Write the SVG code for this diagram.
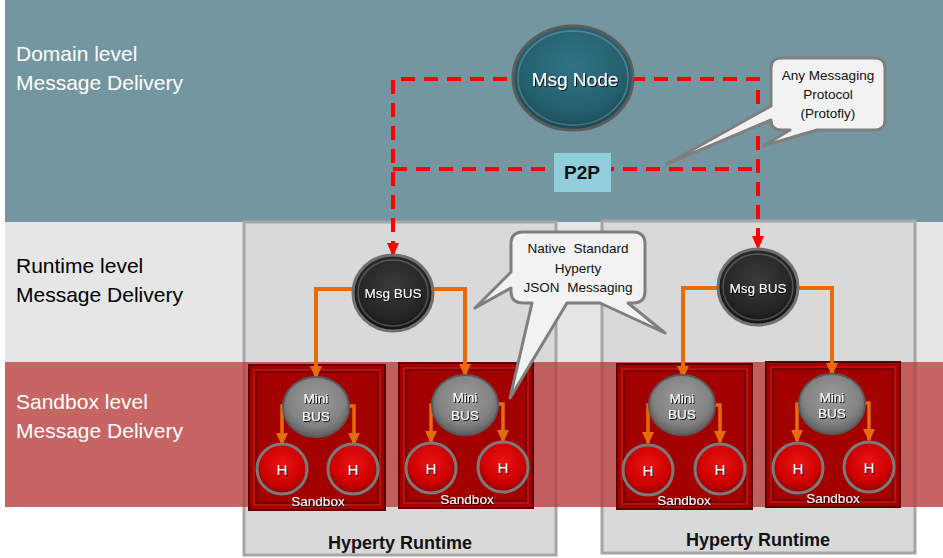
<svg xmlns="http://www.w3.org/2000/svg" width="943" height="558" viewBox="0 0 943 558">
<style>
text{font-family:"Liberation Sans",Arial,sans-serif}
.lvl{font-size:21px}
.w{fill:#fff}
.k{fill:#000}
.sh{filter:url(#ts)}
.box{fill:#D9D9D9;stroke:#A6A6A6;stroke-width:3}
.sb{fill:#A30000;stroke:#5E0000;stroke-width:2}
.sbi{fill:none;stroke:#6E0000;stroke-width:1.5}
.sbh{fill:none;stroke:#C42626;stroke-width:1}
.red{fill:none;stroke:#FF0000;stroke-width:4;stroke-dasharray:14 9}
.org{fill:none;stroke:#E46C0A;stroke-width:4;marker-end:url(#ao)}
.orgs{fill:none;stroke:#E46C0A;stroke-width:3.5;marker-end:url(#ao)}
.bus{fill:url(#gBus);stroke:#707070;stroke-width:3}
.mini{fill:url(#gMini);stroke:#5A5A5A;stroke-width:2}
.h{fill:url(#gH);stroke:#7A7A7A;stroke-width:3}
.hl{fill:none;stroke:#fff;stroke-opacity:.22;stroke-width:1.5}
.call{fill:#F2F2F2;stroke:#7F7F7F;stroke-width:3;stroke-linejoin:round}
.ct{font-size:13.5px;fill:#111;text-anchor:middle}
.bt{font-size:13.5px;text-anchor:middle}
.ht{font-size:15px;text-anchor:middle}
.hr{font-size:18px;font-weight:bold;text-anchor:middle;fill:#111}
</style>
<defs>
<radialGradient id="gNode" cx="50%" cy="38%" r="62%">
<stop offset="0" stop-color="#2F7585"/><stop offset="0.7" stop-color="#25606E"/><stop offset="1" stop-color="#1B4956"/>
</radialGradient>
<radialGradient id="gBus" cx="50%" cy="40%" r="60%">
<stop offset="0" stop-color="#3A3A3A"/><stop offset="0.7" stop-color="#262626"/><stop offset="1" stop-color="#121212"/>
</radialGradient>
<radialGradient id="gMini" cx="50%" cy="40%" r="60%">
<stop offset="0" stop-color="#9C9C9C"/><stop offset="0.7" stop-color="#828282"/><stop offset="1" stop-color="#5F5F5F"/>
</radialGradient>
<radialGradient id="gH" cx="50%" cy="40%" r="60%">
<stop offset="0" stop-color="#EC1414"/><stop offset="0.7" stop-color="#CC0000"/><stop offset="1" stop-color="#8E0000"/>
</radialGradient>
<filter id="ts" x="-20%" y="-30%" width="140%" height="160%">
<feDropShadow dx="1" dy="1" stdDeviation="0.4" flood-color="#000" flood-opacity="0.9"/>
</filter>
<marker id="ar" markerUnits="userSpaceOnUse" markerWidth="14" markerHeight="14" viewBox="0 0 14 14" refX="12" refY="7" orient="auto-start-reverse">
<path d="M0,1 L14,7 L0,13 z" fill="#FF0000"/>
</marker>
<marker id="ao" markerUnits="userSpaceOnUse" markerWidth="13" markerHeight="13" viewBox="0 0 13 13" refX="11" refY="6.5" orient="auto">
<path d="M0,0.5 L13,6.5 L0,12.5 z" fill="#E46C0A"/>
</marker>
</defs>

<g id="bands">
<rect x="0" y="0" width="943" height="558" fill="#fff"/>
<rect x="5" y="0" width="938" height="222" fill="#7396A0"/>
<rect x="5" y="222" width="938" height="140" fill="#E6E6E6"/>
<text class="lvl w" x="16" y="61">Domain level</text>
<text class="lvl w" x="16" y="90">Message Delivery</text>
<text class="lvl k" x="16" y="273">Runtime level</text>
<text class="lvl k" x="16" y="302">Message Delivery</text>
</g>

<g id="runtime-left">
<rect class="box" x="244" y="222" width="312" height="333"/>
<text class="hr" x="400" y="549">Hyperty Runtime</text>
</g>
<g id="runtime-right">
<rect class="box" x="602" y="221" width="313" height="332"/>
<text class="hr" x="758" y="546">Hyperty Runtime</text>
</g>

<g id="sandbox-band">
<rect x="5" y="362" width="938" height="145" fill="#B83E3D" fill-opacity="0.8"/>
<text class="lvl w" x="16" y="409">Sandbox level</text>
<text class="lvl w" x="16" y="438">Message Delivery</text>
</g>

<g id="sandbox-1">
<rect class="sb" x="249" y="365" width="136" height="145"/>
<rect class="sbh" x="254" y="370" width="126" height="135"/>
<rect class="sbi" x="256" y="372" width="122" height="131"/>
<text class="bt w sh" x="318" y="506">Sandbox</text>
</g>
<g id="sandbox-2">
<rect class="sb" x="399" y="363" width="134" height="145"/>
<rect class="sbh" x="404" y="368" width="124" height="135"/>
<rect class="sbi" x="406" y="370" width="120" height="131"/>
<text class="bt w sh" x="467" y="504">Sandbox</text>
</g>
<g id="sandbox-3">
<rect class="sb" x="617" y="364" width="135" height="145"/>
<rect class="sbh" x="622" y="369" width="125" height="135"/>
<rect class="sbi" x="624" y="371" width="121" height="131"/>
<text class="bt w sh" x="684" y="505">Sandbox</text>
</g>
<g id="sandbox-4">
<rect class="sb" x="766" y="362" width="134" height="145"/>
<rect class="sbh" x="771" y="367" width="124" height="135"/>
<rect class="sbi" x="773" y="369" width="120" height="131"/>
<text class="bt w sh" x="833" y="503">Sandbox</text>
</g>

<g id="connectors">
<path class="red" d="M393,255 V79 H758 V248" marker-start="url(#ar)" marker-end="url(#ar)"/>
<path class="red" d="M393,169 H758"/>
<path class="org" d="M353,289 H316 V377"/>
<path class="org" d="M433,289 H465 V375"/>
<path class="org" d="M718,288 H683 V377"/>
<path class="org" d="M798,288 H832 V374"/>
<path class="orgs" d="M286,406 H282 V444"/>
<path class="orgs" d="M348,406 H354 V444"/>
<path class="orgs" d="M434,405 H431 V442"/>
<path class="orgs" d="M497,404 H503 V441"/>
<path class="orgs" d="M651,405 H648 V443"/>
<path class="orgs" d="M714,405 H720 V442"/>
<path class="orgs" d="M800,404 H797 V441"/>
<path class="orgs" d="M864,403 H869 V440"/>
</g>

<g id="msg-node">
<ellipse cx="573" cy="78" rx="60" ry="52" fill="url(#gNode)" stroke="#5C5C5C" stroke-width="3"/>
<ellipse class="hl" cx="573" cy="78" rx="55" ry="47"/>
<text class="sh" x="575" y="86" font-size="19" fill="#fff" text-anchor="middle">Msg Node</text>
</g>

<g id="msg-bus-left">
<ellipse class="bus" cx="393" cy="293" rx="40" ry="38"/>
<ellipse class="hl" cx="393" cy="293" rx="35" ry="33"/>
<text class="bt w sh" x="393" y="298">Msg BUS</text>
</g>
<g id="msg-bus-right">
<ellipse class="bus" cx="758" cy="287" rx="40" ry="38"/>
<ellipse class="hl" cx="758" cy="287" rx="35" ry="33"/>
<text class="bt w sh" x="758" y="293">Msg BUS</text>
</g>

<g id="mini-bus-1">
<ellipse class="mini" cx="316" cy="407" rx="33" ry="30"/>
<text class="bt w sh" x="316" y="403">Mini</text>
<text class="bt w sh" x="316" y="421">BUS</text>
</g>
<g id="mini-bus-2">
<ellipse class="mini" cx="465" cy="405" rx="33" ry="30"/>
<text class="bt w sh" x="465" y="402">Mini</text>
<text class="bt w sh" x="465" y="420">BUS</text>
</g>
<g id="mini-bus-3">
<ellipse class="mini" cx="682" cy="405" rx="33" ry="30"/>
<text class="bt w sh" x="682" y="403">Mini</text>
<text class="bt w sh" x="682" y="419">BUS</text>
</g>
<g id="mini-bus-4">
<ellipse class="mini" cx="832" cy="404" rx="33" ry="30"/>
<text class="bt w sh" x="832" y="402">Mini</text>
<text class="bt w sh" x="832" y="418">BUS</text>
</g>

<g id="h-1a"><circle class="h" cx="282" cy="469" r="25"/><text class="ht w sh" x="282" y="475">H</text></g>
<g id="h-1b"><circle class="h" cx="353" cy="469" r="25"/><text class="ht w sh" x="353" y="475">H</text></g>
<g id="h-2a"><circle class="h" cx="431" cy="468" r="25"/><text class="ht w sh" x="431" y="474">H</text></g>
<g id="h-2b"><circle class="h" cx="503" cy="467" r="25"/><text class="ht w sh" x="503" y="473">H</text></g>
<g id="h-3a"><circle class="h" cx="648" cy="470" r="25"/><text class="ht w sh" x="648" y="476">H</text></g>
<g id="h-3b"><circle class="h" cx="720" cy="469" r="25"/><text class="ht w sh" x="720" y="475">H</text></g>
<g id="h-4a"><circle class="h" cx="798" cy="468" r="25"/><text class="ht w sh" x="798" y="474">H</text></g>
<g id="h-4b"><circle class="h" cx="869" cy="467" r="25"/><text class="ht w sh" x="869" y="473">H</text></g>

<g id="p2p">
<rect x="554" y="153" width="57" height="39" fill="#92CDDC"/>
<text x="582" y="179" font-size="19" font-weight="bold" fill="#111" text-anchor="middle">P2P</text>
</g>

<g id="callout-protocol">
<path class="call" d="M781,58 H875 Q885,58 885,68 V120 Q885,130 875,130 H817 L763,146 L790,130 H781 Q771,130 771,120 L667,164 L771,106 V68 Q771,58 781,58 Z"/>
<text class="ct" x="828" y="80">Any Messaging</text>
<text class="ct" x="828" y="99">Protocol</text>
<text class="ct" x="828" y="118">(Protofly)</text>
</g>

<g id="callout-json">
<path class="call" d="M523,232 H633 Q645,232 645,244 V291 Q645,303 633,303 H628 L665,333 L600,303 H567 L510,398 L532,303 H523 Q511,303 511,291 V288 L475,308 L511,272 V244 Q511,232 523,232 Z"/>
<text class="ct" x="578" y="253" word-spacing="4">Native Standard</text>
<text class="ct" x="578" y="273">Hyperty</text>
<text class="ct" x="578" y="292" word-spacing="4">JSON Messaging</text>
</g>
</svg>
